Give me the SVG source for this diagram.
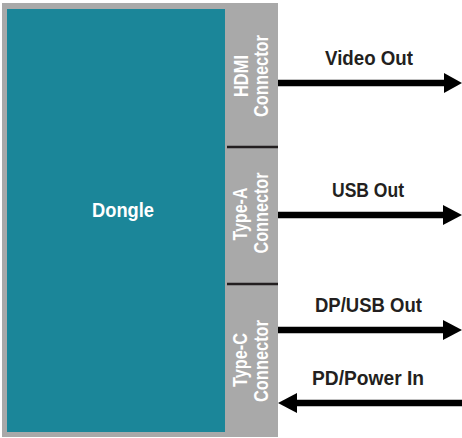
<svg xmlns="http://www.w3.org/2000/svg" width="462" height="438" viewBox="0 0 462 438">
<style>
.lbl{font-family:"Liberation Sans",Arial,sans-serif;font-weight:bold;font-size:21px;fill:#231f20}
.wt{font-family:"Liberation Sans",Arial,sans-serif;font-weight:bold;font-size:21px;fill:#ffffff;text-anchor:middle}
.sep{stroke:#231f20;stroke-width:2.5}
.ln{stroke:#000;stroke-width:6.5;fill:none}
.hd{fill:#000}
</style>
<rect width="462" height="438" fill="#ffffff"/>
<g id="dongle">
<rect x="2" y="3" width="276" height="434" fill="#a9a9a9"/>
<rect x="7" y="9" width="218" height="423" fill="#1b8699"/>
<text class="wt" x="123" y="217" textLength="62" lengthAdjust="spacingAndGlyphs">Dongle</text>
</g>
<g id="hdmi">
<text class="wt" transform="translate(248,76) rotate(-90)" textLength="42" lengthAdjust="spacingAndGlyphs">HDMI</text>
<text class="wt" transform="translate(268,76) rotate(-90)" textLength="82" lengthAdjust="spacingAndGlyphs">Connector</text>
</g>
<g id="typea">
<text class="wt" transform="translate(247,214) rotate(-90)" textLength="53" lengthAdjust="spacingAndGlyphs">Type-A</text>
<text class="wt" transform="translate(268,213) rotate(-90)" textLength="81" lengthAdjust="spacingAndGlyphs">Connector</text>
</g>
<g id="typec">
<text class="wt" transform="translate(247,360) rotate(-90)" textLength="54" lengthAdjust="spacingAndGlyphs">Type-C</text>
<text class="wt" transform="translate(268,361) rotate(-90)" textLength="82" lengthAdjust="spacingAndGlyphs">Connector</text>
</g>
<g id="separators">
<line class="sep" x1="227" y1="147" x2="278" y2="147"/>
<line class="sep" x1="227" y1="284" x2="278" y2="284"/>
</g>
<g id="connectors">
<line class="ln" x1="278" y1="83" x2="447" y2="83"/>
<polygon class="hd" points="444,73 462,83 444,93"/>
<line class="ln" x1="278" y1="215" x2="447" y2="215"/>
<polygon class="hd" points="443,205 462,215 443,225"/>
<line class="ln" x1="278" y1="330" x2="447" y2="330"/>
<polygon class="hd" points="443,320 462,330 443,340"/>
<line class="ln" x1="294" y1="403" x2="462" y2="403"/>
<polygon class="hd" points="297,393 278,403 297,413"/>
</g>
<g id="labels">
<text class="lbl" x="325" y="65" textLength="88" lengthAdjust="spacingAndGlyphs">Video Out</text>
<text class="lbl" x="332" y="197" textLength="72" lengthAdjust="spacingAndGlyphs">USB Out</text>
<text class="lbl" x="315" y="312" textLength="107" lengthAdjust="spacingAndGlyphs">DP/USB Out</text>
<text class="lbl" x="312" y="385" textLength="112" lengthAdjust="spacingAndGlyphs">PD/Power In</text>
</g>
</svg>
